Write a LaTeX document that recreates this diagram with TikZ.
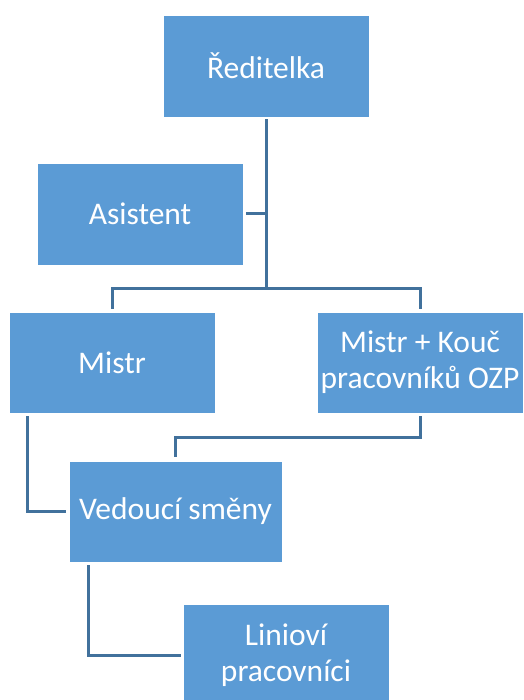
\documentclass[tikz,border=0pt]{standalone}
\usepackage{fontspec}
\setmainfont{Carlito}
\usetikzlibrary{calc,positioning}
\definecolor{boxblue}{HTML}{5B9BD5}
\definecolor{lineblue}{HTML}{41719C}

\begin{document}
\begin{tikzpicture}[x=1pt,y=-1pt,
    box/.style={rectangle, fill=boxblue, draw=white, thin, text=white,
      minimum width=206pt, minimum height=102pt, inner sep=0pt, align=center,
      font=\fontsize{31.5}{36}\selectfont},
    link/.style={draw=lineblue, line width=3pt}]

  \useasboundingbox (0,0) rectangle (523,700);

  \node [box] at (266,66) (reditelka) {Ředitelka};
  \node [box] at (140,214) (asistent) {Asistent};
  \node [box, minimum height=101pt] at (112,362.5) (mistr) {Mistr};
  \node [box, minimum height=101pt] at (420,362.5) (kouc) {Mistr + Kouč\\pracovníků OZP};
  \node [box, minimum width=213pt, minimum height=101pt] at (175.5,511.5) (vedouci) {Vedoucí směny};
  \node [box] at (286,655) (liniovi) {Linioví\\pracovníci};

  \coordinate (split) at (266,288);

  % top of the tree
  \path [link] ($(reditelka.south)+(0,2)$) -- (split)
    ($(asistent.east)+(3,0)$) -- (asistent.east -| split);
  \path [link] ($(mistr.north)+(0,-3)$) |- (split) -| ($(kouc.north)+(0,-3)$);

  % lower part
  \path [link] ($(kouc.south)+(0,3)$) -- ++(0,21) -| ($(vedouci.north)+(0,-4)$);
  \path [link] ($(mistr.south west)+(19,3)$) |- ($(vedouci.west)+(-3,0)$);
  \path [link] ($(vedouci.south west)+(20,3)$) |- ($(liniovi.west)+(-2,0)$);

\end{tikzpicture}
\end{document}
